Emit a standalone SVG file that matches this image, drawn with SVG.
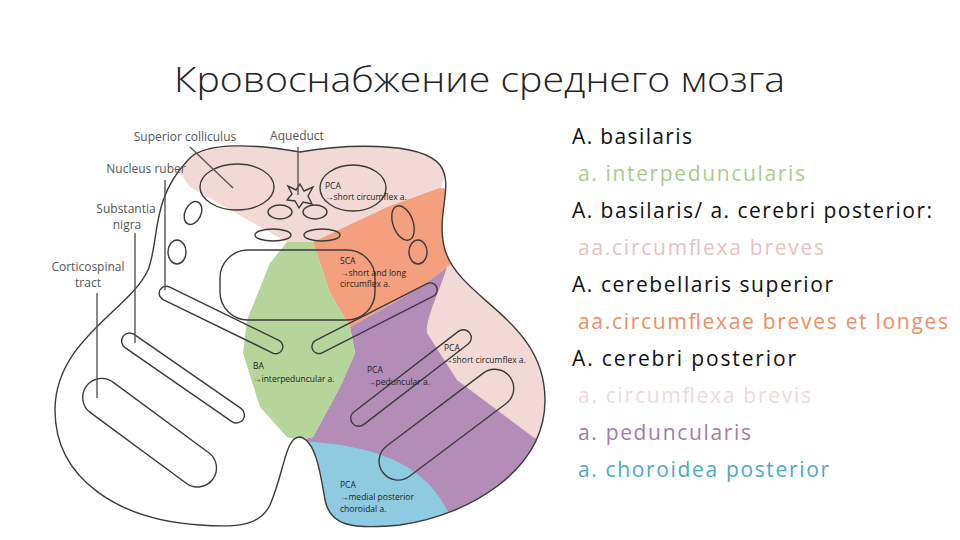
<svg xmlns="http://www.w3.org/2000/svg" width="960" height="540" viewBox="0 0 960 540">
<style>
.ol{fill:none;stroke:#3a3a3a;stroke-width:1.4}
.ld{stroke:#555;stroke-width:1.4;fill:none}
.lb{font-family:"Open Sans","Liberation Sans",sans-serif;font-size:12px;fill:#555}
.sm{font-family:"Open Sans","Liberation Sans",sans-serif;font-size:8.5px;fill:#222}
.rt{font-family:"Open Sans","Liberation Sans",sans-serif;font-size:21px}
</style>
<defs>
<clipPath id="c"><path id="o" d="M188,160 C205,140 260,145 300,152 C340,145 420,140 440,165 C455,185 435,215 445,250 C460,300 545,320 545,400 C545,470 470,515 400,525 C350,530 330,525 325,500 C320,470 315,440 300,437 C285,437 285,470 270,505 C260,525 240,528 200,525 C120,520 55,480 55,410 C55,340 130,310 148,270 C160,240 150,200 188,160 Z"/></clipPath>
</defs>
<rect width="960" height="540" fill="#fff"/>
<text x="174" y="92" textLength="611" lengthAdjust="spacingAndGlyphs" font-family="'Open Sans','Liberation Sans',sans-serif" font-weight="300" font-size="34" fill="#222">Кровоснабжение среднего мозга</text>
<g id="regions" clip-path="url(#c)">
<path fill="#f2d9d6" d="M150,130 L460,130 L440,190 L387,207 L313,242 L287,242 L190,187 Z"/>
<path fill="#f4a07e" d="M313,242 L387,207 L440,188 L460,190 L460,262 L447,267 C420,290 380,310 350,327 L330,293 Z"/>
<path fill="#b48cb8" d="M350,327 C380,310 420,290 447,267 L460,262 L560,300 L560,540 L300,540 L300,440 L313,437 L340,387 L355,353 Z"/>
<path fill="#b5d59a" d="M287,242 L313,242 L330,293 L350,327 L355,353 L340,387 L313,437 L300,440 L287,437 L260,407 L243,353 L247,320 L270,263 Z"/>
<path fill="#f2d9d6" d="M447,267 L470,250 L560,300 L560,450 L533,437 L457,380 L427,333 C425,320 440,290 447,267 Z"/>
<path fill="#8ecae0" d="M313,442 C400,448 440,480 455,530 L300,540 L300,440 Z"/>
</g>
<g id="shapes">
<use href="#o" class="ol"/>
<ellipse class="ol" cx="237" cy="187" rx="37" ry="23"/>
<ellipse class="ol" cx="353" cy="188" rx="33" ry="23"/>
<path class="ol" d="M300,184 L304,191 L313,187 L308,196 L312,204 L303,202 L299,208 L295,201 L287,200 L292,194 L288,186 L296,190 Z"/>
<ellipse class="ol" cx="280" cy="212" rx="12" ry="7"/>
<ellipse class="ol" cx="315" cy="212" rx="12" ry="7"/>
<ellipse class="ol" cx="273" cy="235" rx="18" ry="6"/>
<ellipse class="ol" cx="322" cy="235" rx="18" ry="6"/>
<ellipse class="ol" cx="193" cy="213" rx="8" ry="12" transform="rotate(25 193 213)"/>
<ellipse class="ol" cx="177" cy="252" rx="9" ry="12"/>
<ellipse class="ol" cx="403" cy="223" rx="10" ry="18" transform="rotate(-20 403 223)"/>
<ellipse class="ol" cx="418" cy="252" rx="9" ry="12"/>
<rect class="ol" x="220" y="250" width="155" height="70" rx="28"/>
<rect class="ol" x="153" y="313" width="136" height="14" rx="7" transform="rotate(26 221 320)"/>
<rect class="ol" x="305" y="311" width="139" height="14" rx="7" transform="rotate(-27 375 318)"/>
<rect class="ol" x="110" y="370" width="146" height="16" rx="8" transform="rotate(34.7 183 378)"/>
<rect class="ol" x="337" y="370" width="148" height="16" rx="8" transform="rotate(-37.6 411 378)"/>
<rect class="ol" x="71" y="414" width="157" height="38" rx="19" transform="rotate(36.4 150 433)"/>
<rect class="ol" x="367" y="406" width="159" height="38" rx="19" transform="rotate(-37 446 425)"/>
</g>
<g id="connectors">
<line class="ld" x1="190" y1="147" x2="233" y2="188"/>
<line class="ld" x1="298" y1="147" x2="298" y2="195"/>
<line class="ld" x1="165" y1="180" x2="165" y2="290"/>
<line class="ld" x1="135" y1="233" x2="135" y2="343"/>
<line class="ld" x1="97" y1="293" x2="97" y2="398"/>
</g>
<g id="labels">
<text class="lb" x="185" y="141" text-anchor="middle">Superior colliculus</text>
<text class="lb" x="297" y="140" text-anchor="middle">Aqueduct</text>
<text class="lb" x="146" y="173" text-anchor="middle">Nucleus ruber</text>
<text class="lb" x="126" y="213" text-anchor="middle">Substantia</text>
<text class="lb" x="127" y="229" text-anchor="middle">nigra</text>
<text class="lb" x="88" y="271" text-anchor="middle">Corticospinal</text>
<text class="lb" x="88" y="287" text-anchor="middle">tract</text>
<text class="sm" x="325" y="189">PCA</text><text class="sm" x="325" y="200">→short circumflex a.</text>
<text class="sm" x="340" y="264">SCA</text><text class="sm" x="340" y="276">→short and long</text><text class="sm" x="340" y="287">circumflex a.</text>
<text class="sm" x="444" y="351">PCA</text><text class="sm" x="444" y="363">→short circumflex a.</text>
<text class="sm" x="253" y="369">BA</text><text class="sm" x="253" y="382">→interpeduncular a.</text>
<text class="sm" x="367" y="373">PCA</text><text class="sm" x="367" y="385">→peduncular a.</text>
<text class="sm" x="340" y="488">PCA</text><text class="sm" x="340" y="500">→medial posterior</text><text class="sm" x="340" y="512">choroidal a.</text>
</g>
<g id="legend" class="rt" xml:space="preserve">
<text x="572" y="144" textLength="120" fill="#111">A. basilaris</text>
<text x="578" y="181" textLength="227" fill="#a8cc8c">a. interpeduncularis</text>
<text x="572" y="218" textLength="360" fill="#111">A. basilaris/ a. cerebri posterior:</text>
<text x="578" y="255" textLength="246" fill="#e6c2c2">aa.circumflexa breves</text>
<text x="572" y="292" textLength="261" fill="#111">A. cerebellaris superior</text>
<text x="578" y="329" textLength="370" fill="#ec8e62">aa.circumflexae breves et longes</text>
<text x="572" y="366" textLength="224" fill="#111">A.   cerebri posterior</text>
<text x="578" y="403" textLength="233" fill="#eddada">a. circumflexa brevis</text>
<text x="578" y="440" textLength="173" fill="#a67aa8">a. peduncularis</text>
<text x="578" y="477" textLength="251" fill="#4ea9c4">a. choroidea posterior</text>
</g>
</svg>
